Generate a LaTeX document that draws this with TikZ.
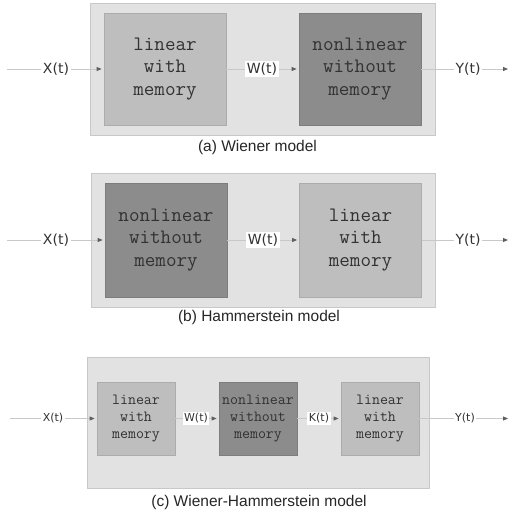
\documentclass[tikz,border=0pt]{standalone}
\usepackage{fontspec}
\setmainfont{Liberation Sans}
\newfontfamily\labfont{DejaVu Sans}
\definecolor{outerfill}{RGB}{226,226,226}
\definecolor{outerline}{RGB}{200,200,200}
\definecolor{linfill}{RGB}{190,190,190}
\definecolor{linline}{RGB}{172,172,172}
\definecolor{nlfill}{RGB}{140,140,140}
\definecolor{nlline}{RGB}{125,125,125}
\definecolor{inktext}{RGB}{50,50,50}
\definecolor{wirecol}{RGB}{200,200,200}
\definecolor{tipgray}{RGB}{95,95,95}
\usetikzlibrary{arrows.meta}

\begin{document}
\begin{tikzpicture}[x=1pt, y=-1pt,
    frame/.style={draw=outerline, fill=outerfill, line width=0.8pt, inner sep=0pt},
    block/.style={minimum width=122pt, minimum height=112pt, inner sep=0pt, align=center,
      text=inktext, font=\ttfamily\fontsize{20.5}{22.5}\selectfont, line width=0.8pt},
    small/.style={minimum width=78pt, minimum height=73pt, font=\ttfamily\fontsize{15.5}{17}\selectfont},
    lin/.style={block, fill=linfill, draw=linline},
    nonlin/.style={block, fill=nlfill, draw=nlline},
    sig/.style={fill=white, inner sep=1.5pt, text=inktext, font=\labfont\fontsize{14}{16}\selectfont},
    smallsig/.style={sig, font=\labfont\fontsize{11}{13}\selectfont},
    wire/.style={draw=wirecol, line width=0.8pt, -{Triangle[length=5pt, width=4pt, color=tipgray]}, shorten >=2pt},
    caption/.style={font=\fontsize{15.5}{18}\selectfont, text=black!85},
  ]
    \useasboundingbox (0,0) rectangle (509,514);

    % (a) Wiener model
    \node[frame, minimum width=345pt, minimum height=132pt] (framea) at (262.5,69) {};
    \node[lin] (lina) at (165,69) {linear\\with\\memory};
    \node[nonlin] (nla) at (360,69) {nonlinear\\without\\memory};
    \coordinate (ina) at (7,69);
    \coordinate (outa) at (509,69);
    \draw[wire] (ina) -- (lina);
    \draw[wire] (lina) -- (nla);
    \draw[wire, shorten >=1pt] (nla) -- (outa);
    \node[sig] (xa) at (56,69) {X(t)};
    \node[sig] (wa) at (262,69) {W(t)};
    \node[sig] (ya) at (468,69) {Y(t)};
    \node[caption] (capa) at (257.5,147) {(a) Wiener model};

    % (b) Hammerstein model
    \node[frame, minimum width=344pt, minimum height=134pt] (frameb) at (263,240) {};
    \node[nonlin, minimum height=114pt] (nlb) at (166,240) {nonlinear\\without\\memory};
    \node[lin, minimum height=114pt] (linb) at (360.5,240) {linear\\with\\memory};
    \coordinate (inb) at (7,240);
    \coordinate (outb) at (509,240);
    \draw[wire] (inb) -- (nlb);
    \draw[wire] (nlb) -- (linb);
    \draw[wire, shorten >=1pt] (linb) -- (outb);
    \node[sig] (xb) at (56,240) {X(t)};
    \node[sig] (wb) at (263,240) {W(t)};
    \node[sig] (yb) at (468,240) {Y(t)};
    \node[caption] (capb) at (259,317) {(b) Hammerstein model};

    % (c) Wiener-Hammerstein model
    \node[frame, minimum width=342pt, minimum height=131pt] (framec) at (258,422.5) {};
    \node[lin, small] (linc) at (136,418.5) {linear\\with\\memory};
    \node[nonlin, small] (nlc) at (258,418.5) {nonlinear\\without\\memory};
    \node[lin, small] (lind) at (380,418.5) {linear\\with\\memory};
    \coordinate (inc) at (10,418.5);
    \coordinate (outc) at (509,418.5);
    \draw[wire] (inc) -- (linc);
    \draw[wire] (linc) -- (nlc);
    \draw[wire] (nlc) -- (lind);
    \draw[wire, shorten >=1pt] (lind) -- (outc);
    \node[smallsig] (xc) at (53,418.5) {X(t)};
    \node[smallsig] (wc) at (196,418.5) {W(t)};
    \node[smallsig] (kc) at (319,418.5) {K(t)};
    \node[smallsig] (yc) at (465,418.5) {Y(t)};
    \node[caption] (capc) at (259,502) {(c) Wiener-Hammerstein model};
  \end{tikzpicture}
\end{document}
